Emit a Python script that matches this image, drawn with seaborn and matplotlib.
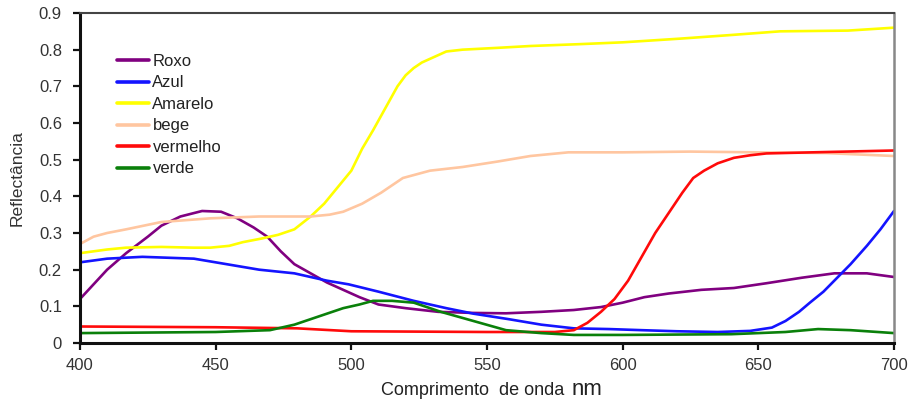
import matplotlib
matplotlib.use("Agg")
import matplotlib.pyplot as plt
import numpy as np
import pandas as pd
import seaborn as sns

# Reflectance spectra of six pigment samples (wavelength in nm)
wl_roxo = [400, 410, 417, 425, 430, 437, 445, 452, 458, 464, 469, 474, 479, 485, 491,
           497, 503, 510, 520, 532, 545, 557, 570, 582, 592, 600, 608, 617, 629, 641,
           653, 666, 678, 690, 700]
roxo = [0.12, 0.20, 0.245, 0.29, 0.32, 0.345, 0.36, 0.358, 0.34, 0.315, 0.29, 0.25, 0.215,
        0.19, 0.165, 0.145, 0.125, 0.105, 0.095, 0.085, 0.082, 0.081, 0.085, 0.09, 0.098,
        0.11, 0.125, 0.135, 0.145, 0.15, 0.163, 0.178, 0.19, 0.19, 0.18]

wl_azul = [400, 410, 423, 442, 454, 466, 479, 491, 499, 510, 523, 535, 545, 558, 570, 582,
           595, 607, 620, 635, 647, 655, 660, 665, 669, 674, 678, 684, 690, 695, 700]
azul = [0.22, 0.23, 0.235, 0.23, 0.215, 0.2, 0.19, 0.17, 0.16, 0.14, 0.115, 0.095, 0.08,
        0.065, 0.05, 0.04, 0.038, 0.035, 0.032, 0.03, 0.033, 0.042, 0.06, 0.085, 0.11,
        0.14, 0.17, 0.215, 0.265, 0.31, 0.36]

wl_amarelo = [400, 410, 417, 430, 442, 448, 455, 460, 467, 473, 479, 485, 490, 495, 500,
              504, 508, 511, 514, 517, 520, 523, 526, 529, 535, 541, 554, 566, 584, 600,
              621, 640, 658, 683, 700]
amarelo = [0.245, 0.255, 0.26, 0.262, 0.26, 0.26, 0.265, 0.275, 0.285, 0.295, 0.31, 0.345,
           0.38, 0.425, 0.47, 0.53, 0.58, 0.62, 0.66, 0.70, 0.73, 0.75, 0.765, 0.775, 0.795,
           0.80, 0.805, 0.81, 0.815, 0.82, 0.83, 0.84, 0.85, 0.852, 0.86]

wl_bege = [400, 405, 410, 417, 430, 448, 466, 485, 492, 497, 504, 511, 519, 529, 541, 554,
           566, 580, 600, 625, 650, 675, 700]
bege = [0.27, 0.29, 0.3, 0.31, 0.33, 0.34, 0.345, 0.345, 0.35, 0.358, 0.38, 0.41, 0.45,
        0.47, 0.48, 0.495, 0.51, 0.52, 0.52, 0.522, 0.52, 0.518, 0.51]

wl_vermelho = [400, 450, 480, 500, 550, 575, 582, 587, 592, 597, 602, 607, 612, 617, 622,
               626, 630, 635, 641, 647, 653, 670, 700]
vermelho = [0.045, 0.043, 0.04, 0.032, 0.03, 0.03, 0.035, 0.055, 0.085, 0.12, 0.17, 0.235,
            0.3, 0.355, 0.41, 0.45, 0.47, 0.49, 0.505, 0.512, 0.517, 0.52, 0.525]

wl_verde = [400, 450, 470, 479, 485, 491, 497, 503, 508, 515, 523, 533, 545, 557, 570, 582,
            600, 640, 660, 672, 684, 700]
verde = [0.027, 0.03, 0.035, 0.05, 0.065, 0.08, 0.095, 0.105, 0.115, 0.115, 0.11, 0.085,
         0.06, 0.035, 0.027, 0.022, 0.022, 0.024, 0.03, 0.038, 0.035, 0.027]

series_names = ["Roxo", "Azul", "Amarelo", "bege", "vermelho", "verde"]
series_colors = ["#800080", "#1414ff", "#ffff00", "#ffc6a0", "#ff0a0a", "#0a800a"]
x_ticks = [400, 450, 500, 550, 600, 650, 700]
y_ticks = [0, 0.1, 0.2, 0.3, 0.4, 0.5, 0.6, 0.7, 0.8, 0.9]
y_tick_labels = ["0", "0.1", "0.2", "0.3", "0.4", "0.5", "0.6", "0.7", "0.8", "0.9"]

frames = []
for name, wl, val in zip(series_names,
                         [wl_roxo, wl_azul, wl_amarelo, wl_bege, wl_vermelho, wl_verde],
                         [roxo, azul, amarelo, bege, vermelho, verde]):
    frames.append(pd.DataFrame({"nm": wl, "refl": val, "amostra": name}))
df = pd.concat(frames, ignore_index=True)

sns.set_style("ticks")
plt.rcParams["font.family"] = ["Liberation Sans", "DejaVu Sans"]

fig = plt.figure(figsize=(9.10, 4.03), dpi=100)
ax = fig.add_axes([80 / 910, 1 - 343 / 403, 814 / 910, 330 / 403])

sns.lineplot(data=df, x="nm", y="refl", hue="amostra", hue_order=series_names,
             palette=dict(zip(series_names, series_colors)), estimator=None, sort=False,
             linewidth=1.9, ax=ax)

ax.set_xlim(400, 700)
ax.set_ylim(0, 0.9)
ax.set_xticks(x_ticks)
ax.set_yticks(y_ticks)
ax.set_yticklabels(y_tick_labels)
ax.tick_params(axis="both", direction="out", length=5, width=1.6, colors="#111111",
               labelcolor="#333333", labelsize=12)
ax.tick_params(axis="x", pad=6)
ax.tick_params(axis="y", pad=8)

for side in ["left", "bottom"]:
    ax.spines[side].set_linewidth(2.2)
    ax.spines[side].set_color("#111111")
ax.spines["top"].set_visible(True)
ax.spines["top"].set_linewidth(1.5)
ax.spines["top"].set_color("#444444")
ax.spines["right"].set_visible(True)
ax.spines["right"].set_linewidth(1.8)
ax.spines["right"].set_color("#888888")

ax.set_xlabel("")
ax.set_ylabel("Reflectância", fontsize=12.5, color="#333333", labelpad=10)

fig.text(564 / 910, 1 - 395 / 403, "Comprimento  de onda", ha="right", va="baseline",
         fontsize=13, color="#222222")
fig.text(572 / 910, 1 - 395 / 403, "nm", ha="left", va="baseline",
         fontsize=16, color="#222222")

handles, labels = ax.get_legend_handles_labels()
for h in handles:
    h.set_linewidth(2.6)
ax.legend(handles, labels, loc="upper left", bbox_to_anchor=(0.046, 0.876),
          frameon=False, fontsize=12, handlelength=1.9, handletextpad=0.2,
          labelspacing=0.39, borderpad=0, borderaxespad=0, labelcolor="#222222")

fig.savefig("out.png", dpi=100)
